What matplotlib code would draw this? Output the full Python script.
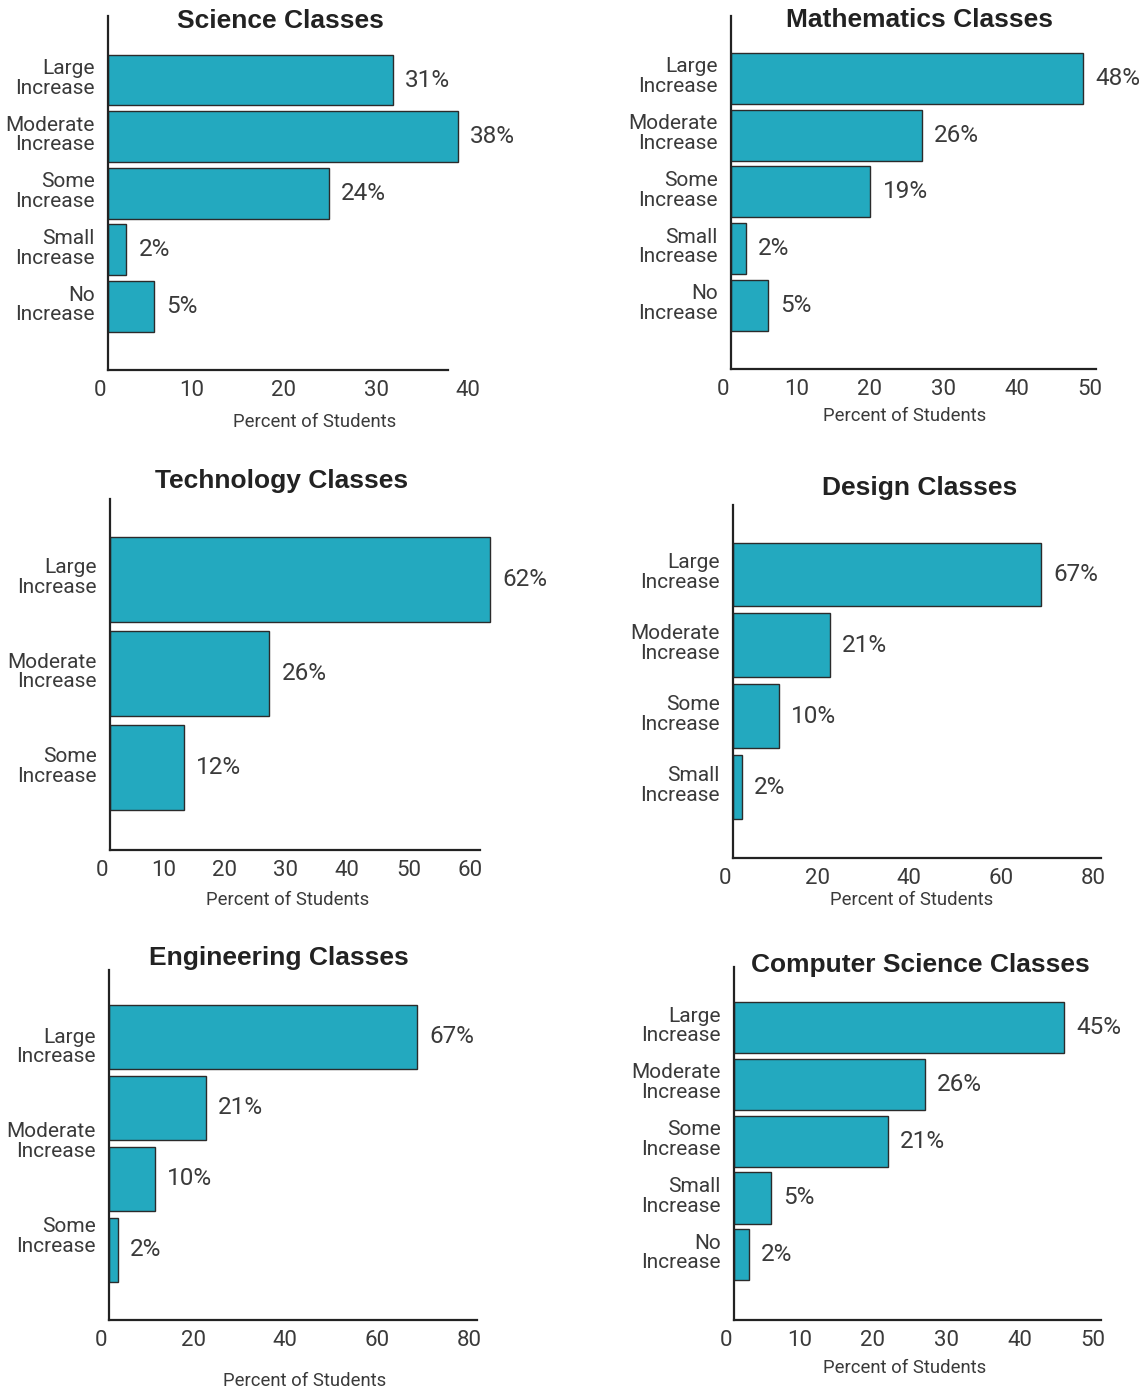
import matplotlib.pyplot as plt
from matplotlib.transforms import ScaledTranslation

W, H = 1148, 1390
plt.rcParams['font.family'] = ['Roboto', 'DejaVu Sans']

BAR = "#23a9bf"
EDGE = "#2b2b2b"
TXT = "#3a3a3a"

large = "Large\nIncrease"
moderate = "Moderate\nIncrease"
some = "Some\nIncrease"
small = "Small\nIncrease"
no = "No\nIncrease"

titles = ["Science Classes", "Mathematics Classes", "Technology Classes",
          "Design Classes", "Engineering Classes", "Computer Science Classes"]

science_labels = [large, moderate, some, small, no]
science_values = [31, 38, 24, 2, 5]
math_labels = [large, moderate, some, small, no]
math_values = [48, 26, 19, 2, 5]
tech_labels = [large, moderate, some]
tech_values = [62, 26, 12]
design_labels = [large, moderate, some, small]
design_values = [67, 21, 10, 2]
# the source only labels three rows here although four bars are drawn
eng_labels = [large, moderate, some]
eng_values = [67, 21, 10, 2]
cs_labels = [large, moderate, some, small, no]
cs_values = [45, 26, 21, 5, 2]

science_ticks = [0, 10, 20, 30, 40]
math_ticks = [0, 10, 20, 30, 40, 50]
tech_ticks = [0, 10, 20, 30, 40, 50, 60]
design_ticks = [0, 20, 40, 60, 80]
eng_ticks = [0, 20, 40, 60, 80]
cs_ticks = [0, 10, 20, 30, 40, 50]

panels = [
    (science_labels, science_values, science_ticks),
    (math_labels, math_values, math_ticks),
    (tech_labels, tech_values, tech_ticks),
    (design_labels, design_values, design_ticks),
    (eng_labels, eng_values, eng_ticks),
    (cs_labels, cs_values, cs_ticks),
]

# layout in pixels: axes box (left, top, right, bottom), ylim (top, bottom),
# end of bottom spine, title centre, x-label centre
layout = [
    ((108, 16, 476, 370), (-1.13, 5.12), 37.0, (280, 21), (315, 422)),
    ((731, 16, 1098, 369), (-1.10, 5.12), 49.7, (920, 20), (905, 416)),
    ((110, 499, 478, 850), (-0.85, 2.87), 60.3, (282, 481), (288, 900)),
    ((733, 505, 1101, 858), (-0.98, 4.0), 80.0, (920, 488), (912, 900)),
    ((109, 970, 477, 1320), (-0.94, 3.99), 80.0, (279, 958), (305, 1381)),
    ((734, 967, 1101, 1320), (-1.07, 5.15), 50.0, (920, 965), (905, 1368)),
]

fig = plt.figure(figsize=(W / 100, H / 100), dpi=100)
xshift = ScaledTranslation(-8 / 100, 0, fig.dpi_scale_trans)
yshift = ScaledTranslation(0, 4 / 100, fig.dpi_scale_trans)

for (labels, values, ticks), (box, ylim, xend, tpos, lpos), title in zip(panels, layout, titles):
    x0, y0, x1, y1 = box
    ax = fig.add_axes([x0 / W, 1 - y1 / H, (x1 - x0) / W, (y1 - y0) / H])
    n = len(values)
    ypos = list(range(n))
    ax.barh(ypos, values, height=0.9, color=BAR, edgecolor=EDGE, linewidth=1, clip_on=False)
    for y, v in zip(ypos, values):
        ax.annotate(f"{v}%", xy=(v, y), xytext=(12, 0), textcoords='offset pixels',
                    ha='left', va='center', fontsize=17.5, color=TXT, annotation_clip=False)
    ax.set_xlim(0, ticks[-1])
    ax.set_ylim(ylim[1], ylim[0])
    ax.set_xticks(ticks)
    step = n / len(labels)
    ax.set_yticks([-0.5 + step * (k + 0.5) for k in range(len(labels))])
    ax.set_yticklabels(labels, linespacing=1.05)
    ax.tick_params(axis='y', length=0, pad=9.5, labelsize=15, labelcolor=TXT)
    ax.tick_params(axis='x', length=0, pad=7.5, labelsize=16, labelcolor=TXT)
    for lab in ax.get_xticklabels():
        lab.set_transform(lab.get_transform() + xshift)
    for lab in ax.get_yticklabels():
        lab.set_transform(lab.get_transform() + yshift)
    for s in ['top', 'right']:
        ax.spines[s].set_visible(False)
    for s in ['left', 'bottom']:
        ax.spines[s].set_linewidth(1.6)
        ax.spines[s].set_color("#222222")
    ax.spines['bottom'].set_bounds(0, xend)
    fig.text(tpos[0] / W, 1 - tpos[1] / H, title, ha='center', va='center',
             fontsize=19, fontweight='bold', color="#222222",
             family=['Liberation Sans', 'DejaVu Sans'])
    fig.text(lpos[0] / W, 1 - lpos[1] / H, "Percent of Students", ha='center', va='center',
             fontsize=13.3, color=TXT)

fig.savefig("out.png", dpi=100)
